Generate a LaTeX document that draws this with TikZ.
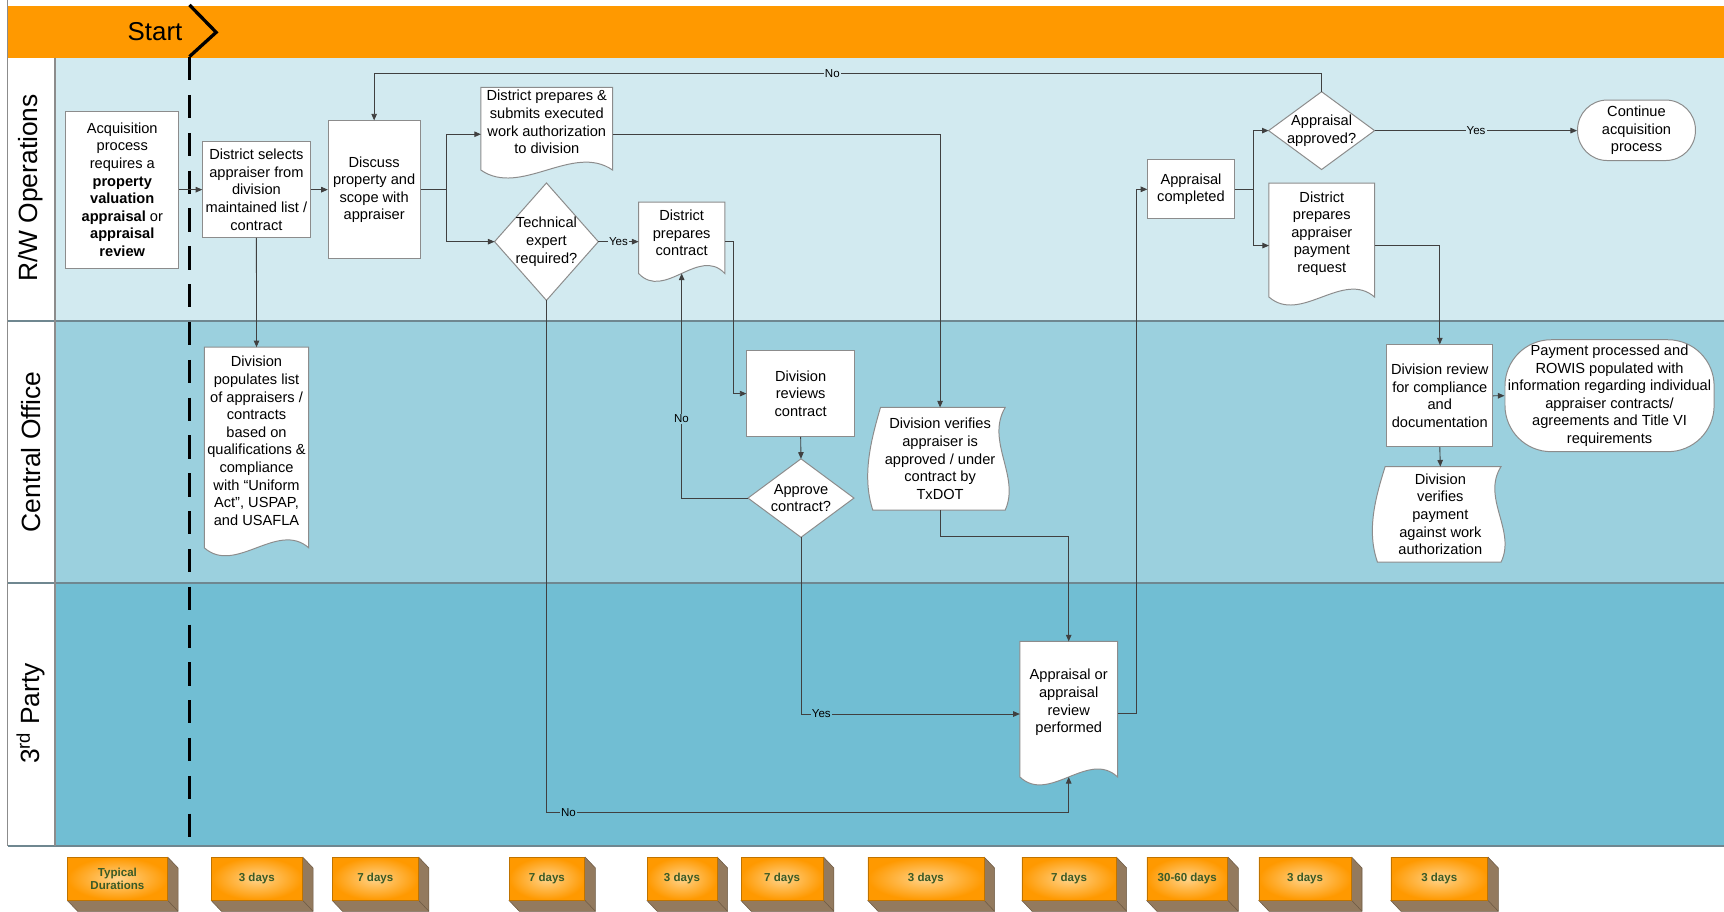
\documentclass[tikz,border=0pt]{standalone}
\usepackage{fontspec}
\setmainfont{Liberation Sans}
\usetikzlibrary{arrows.meta,calc}

\pgfdeclarelayer{lanes}
\pgfdeclarelayer{shapes}
\pgfsetlayers{lanes,shapes,main}

\definecolor{band}{HTML}{FF9900}
\definecolor{laneA}{HTML}{D2EAF0}
\definecolor{laneB}{HTML}{9BD0DE}
\definecolor{laneC}{HTML}{71BED3}
\definecolor{rule}{HTML}{6F8790}
\definecolor{wire}{HTML}{404040}
\definecolor{edge}{HTML}{8C8C8C}
\definecolor{boxside}{HTML}{937A5E}
\definecolor{boxedge}{HTML}{6E5A44}
\definecolor{durtext}{HTML}{3A5A26}
\definecolor{boxlight}{HTML}{FFD38A}

\tikzset{
  txt/.style={align=center, inner sep=0pt, font=\fontsize{13.3}{16}\selectfont, text=black},
  proc/.style={txt, draw=edge, fill=white, line width=0.9pt},
  blank/.style={txt},
  outline/.style={draw=edge, fill=white, line width=0.9pt},
  link/.style={draw=wire, line width=0.8pt},
  conn/.style={link, -{Triangle[length=6pt,width=5pt]}},
  lbl/.style={inner sep=1pt, font=\fontsize{10.5}{12}\selectfont},
  lanetitle/.style={rotate=90, font=\fontsize{24}{28}\selectfont},
  durfront/.style={inner sep=0pt, minimum height=38.9pt, align=center,
    inner color=boxlight, outer color=band, draw=band!75!black, line width=0.5pt,
    font=\bfseries\fontsize{10.5}{12}\selectfont, text=durtext},
}

% document symbol: straight top and sides, wavy bottom (#2 = drop of the wave below the text box)
\newcommand{\drawdoc}[2]{%
  \draw[outline] (#1.north west) -- (#1.north east) -- ($(#1.south east)+(0,#2)$)
    .. controls ($(#1.south west)!0.7!(#1.south east)+(0,#2-25)$)
           and ($(#1.south west)!0.3!(#1.south east)+(0,#2+25)$) .. ($(#1.south west)+(0,#2)$)
    -- cycle;}
% decision symbol
\newcommand{\drawdecision}[1]{%
  \draw[outline] (#1.north) -- (#1.east) -- (#1.south) -- (#1.west) -- cycle;}
% tape symbol: straight top and bottom, wavy sides
\newcommand{\drawtape}[1]{%
  \draw[outline] ($(#1.north west)+(5,0)$) -- (#1.north east)
    .. controls ($(#1.north east)!0.33!(#1.south east)+(-18,0)$)
           and ($(#1.north east)!0.67!(#1.south east)+(14,0)$) .. (#1.south east)
    -- ($(#1.south west)+(-2,0)$)
    .. controls ($(#1.south west)!0.33!(#1.north west)+(-12,0)$)
           and ($(#1.south west)!0.67!(#1.north west)+(-4,0)$) .. ($(#1.north west)+(5,0)$)
    -- cycle;}
% raised duration block
\newcommand{\durationbox}[4]{%
  \node[durfront, minimum width=#3pt] (#1) at (#2,799.15) {#4};
  \begin{pgfonlayer}{shapes}
    \fill[boxside] (#1.north east) -- ++(9.5,10) -- ($(#1.south east)+(9.5,10)$)
      -- ($(#1.south west)+(9.5,10)$) -- (#1.south west) -- (#1.south east) -- cycle;
    \draw[boxedge, line width=0.5pt, line join=round] (#1.north east) -- ++(9.5,10)
      -- ($(#1.south east)+(9.5,10)$) -- ($(#1.south west)+(9.5,10)$) -- (#1.south west);
    \draw[boxedge, line width=0.5pt] (#1.south east) -- ++(9.5,10);
  \end{pgfonlayer}}

\begin{document}
\begin{tikzpicture}[x=1pt,y=-1pt]
\useasboundingbox (0,0) rectangle (1568,829);

% swimlanes
\begin{pgfonlayer}{lanes}
  \fill[white] (0,0) rectangle (1568,829);
  \fill[band] (7,5.5) rectangle (1568,52.5);
  \fill[laneA] (50,52.5) rectangle (1568,292);
  \fill[laneB] (50,292) rectangle (1568,530);
  \fill[laneC] (50,530) rectangle (1568,769.5);
  \draw[rule, line width=1.4pt] (7,292) -- (1568,292) (7,530) -- (1568,530) (7,769.5) -- (1568,769.5);
  \draw[edge, line width=1pt] (7,0) -- (7,769.5) (50,52.5) -- (50,769.5);
\end{pgfonlayer}

\node[lanetitle] (laneRW) at (28,171) {R/W Operations};
\node[lanetitle] (laneCO) at (28,411) {Central Office};
\node[lanetitle] (lane3P) at (28,649) {3\textsuperscript{rd} Party};

% start marker
\node[font=\fontsize{23.5}{26}\selectfont] (start) at (141,28.5) {Start};
\draw[line width=3pt, miter limit=10] (172.3,4.5) -- (196.6,29.4) -- (172.3,51.5);
\draw[line width=3.2pt, dash pattern=on 21.2pt off 13.2pt] (172.3,52) -- (172.3,762);

% R/W Operations
\node[proc, minimum width=102.5pt, minimum height=143pt] (acq) at (111.2,172.5)
  {Acquisition\\process\\requires a\\\textbf{property}\\\textbf{valuation}\\\textbf{appraisal} or\\\textbf{appraisal}\\\textbf{review}};
\node[proc, minimum width=97.5pt, minimum height=87pt] (sel) at (233.2,172.5)
  {District selects\\appraiser from\\division\\maintained list /\\contract};
\node[proc, minimum width=83.4pt, minimum height=125pt] (disc) at (340.3,172.5)
  {Discuss\\property and\\scope with\\appraiser};
\node[blank, minimum width=119.4pt, minimum height=62.8pt] (wa) at (497.3,111.1)
  {District prepares \&\\submits executed\\work authorization\\to division};
\node[blank, minimum width=94pt, minimum height=106.4pt] (tech) at (497,219.8)
  {Technical\\expert\\required?};
\node[blank, minimum width=78pt, minimum height=55.5pt] (ctr) at (620,211.75)
  {District\\prepares\\contract};
\node[proc, minimum width=78.5pt, minimum height=53.5pt] (comp) at (1083.2,172.2)
  {Appraisal\\completed};
\node[blank, minimum width=96pt, minimum height=70.4pt] (appr) at (1202,118.8)
  {Appraisal\\approved?};
\node[proc, rounded corners=27pt, minimum width=107.2pt, minimum height=55pt] (cont) at (1488.4,118.5)
  {Continue\\acquisition\\process};
\node[blank, minimum width=95.7pt, minimum height=91.3pt] (pay) at (1202.2,212.35)
  {District\\prepares\\appraiser\\payment\\request};

% Central Office
\node[blank, minimum width=94.6pt, minimum height=170.1pt] (pop) at (233.3,401)
  {Division\\populates list\\of appraisers /\\contracts\\based on\\qualifications \&\\compliance\\with ``Uniform\\Act'', USPAP,\\and USAFLA};
\node[proc, minimum width=97.7pt, minimum height=78pt] (rev) at (728.2,358)
  {Division\\reviews\\contract};
\node[blank, minimum width=96pt, minimum height=71pt] (appc) at (728.5,453)
  {Approve\\contract?};
\node[blank, minimum width=118pt, minimum height=93pt] (ver) at (855,417.3)
  {Division verifies\\appraiser is\\approved / under\\contract by\\TxDOT};
\node[proc, minimum width=96.3pt, minimum height=92.5pt] (drev) at (1309.5,360)
  {Division review\\for compliance\\and\\documentation};
\node[proc, rounded corners=42pt, minimum width=190.2pt, minimum height=101.8pt] (paid) at (1463.9,359.9)
  {Payment processed and\\ROWIS populated with\\information regarding individual\\appraiser contracts/\\agreements and Title VI\\requirements};
\node[blank, minimum width=110pt, minimum height=86.5pt] (vpay) at (1310,467.8)
  {Division\\verifies\\payment\\against work\\authorization};

% 3rd Party
\node[blank, minimum width=88.5pt, minimum height=110.9pt] (perf) at (972,639)
  {Appraisal or\\appraisal\\review\\performed};

% symbol outlines
\begin{pgfonlayer}{shapes}
  \drawdoc{wa}{12}
  \drawdoc{ctr}{9}
  \drawdoc{pay}{12}
  \drawdoc{pop}{12}
  \drawdoc{perf}{12}
  \drawdecision{tech}
  \drawdecision{appc}
  \drawdecision{appr}
  \drawtape{ver}
  \drawtape{vpay}
\end{pgfonlayer}

% flow
\draw[conn] (acq.east) -- (sel.west);
\draw[conn] (sel.east) -- (disc.west);
\draw[conn] (sel.south) -- (pop.north);
\coordinate (split1) at (406,172.5);
\draw[link] (disc.east) -- (split1);
\draw[conn] (split1) |- ([yshift=-11pt]wa.west);
\draw[conn] (split1) |- (tech.west);
\draw[conn] (tech.east) -- (tech.east -| ctr.west);
\node[lbl, fill=laneA] (yes1) at (562.5,219.8) {Yes};
\coordinate (techno) at (497,739);
\draw[conn] (tech.south) -- (techno) -| ([yshift=-12pt]perf.south);
\node[lbl, fill=laneC] (no1) at (517,739) {No};
\draw[conn] ([yshift=-11pt]wa.east) -| (ver.north);
\draw[conn] (tech.east -| ctr.east) -- ++(8,0) |- (rev.west);
\draw[conn] (rev.south) -- (appc.north);
\draw[conn] (appc.west) -| ([yshift=-9pt]ctr.south);
\node[lbl, fill=laneB] (no2) at (619.8,381) {No};
\draw[conn] (appc.south) |- ([yshift=-10.4pt]perf.west);
\node[lbl, fill=laneC] (yes2) at (747,649.4) {Yes};
\draw[conn] (ver.south) -- ++(0,24.2) -| (perf.north);
\draw[conn] ([yshift=-10pt]perf.east) -- ++(16.8,0) |- (comp.west);
\coordinate (split2) at (1139.8,172.2);
\draw[link] (comp.east) -- (split2);
\draw[conn] (split2) |- (appr.west);
\draw[conn] (split2) |- ([yshift=-11pt]pay.west);
\draw[conn] (appr.east) -- (appr.east -| cont.west);
\node[lbl, fill=laneA] (yes3) at (1342.5,118.8) {Yes};
\draw[conn] (appr.north) -- ++(0,-16.4) -| (disc.north);
\node[lbl, fill=laneA] (no3) at (757,67) {No};
\draw[conn] ([yshift=-11pt]pay.east) -| (drev.north);
\draw[conn] (drev.east) -- (paid.west);
\draw[conn] (drev.south) -- (vpay.north);

% typical durations
\durationbox{d0}{106.8}{90.8}{Typical\\Durations}
\durationbox{d1}{233.6}{82.8}{3 days}
\durationbox{d2}{341.35}{78.1}{7 days}
\durationbox{d3}{497.45}{68.7}{7 days}
\durationbox{d4}{620.25}{63.5}{3 days}
\durationbox{d5}{711.35}{74.7}{7 days}
\durationbox{d6}{842.1}{105.4}{3 days}
\durationbox{d7}{972.25}{85.5}{7 days}
\durationbox{d8}{1079.75}{73.5}{30-60 days}
\durationbox{d9}{1187}{84}{3 days}
\durationbox{d10}{1309}{88}{3 days}
\end{tikzpicture}
\end{document}
